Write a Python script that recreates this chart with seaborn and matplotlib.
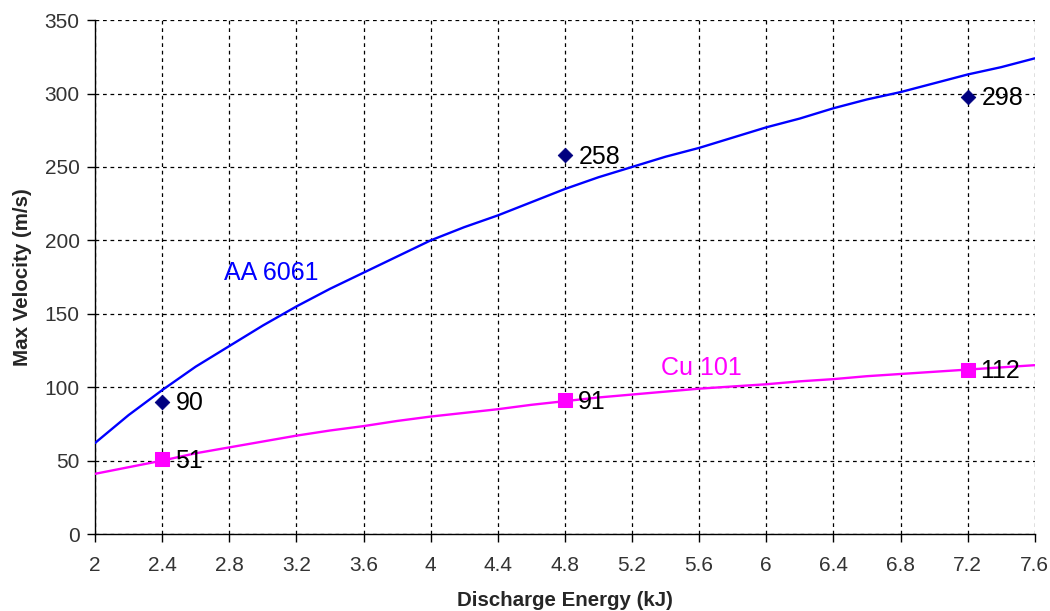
import matplotlib
matplotlib.use('Agg')
import matplotlib.pyplot as plt
import seaborn as sns
import pandas as pd

# measured points
energy_pts = [2.4, 4.8, 7.2]
aa_pts = [90, 258, 298]
cu_pts = [51, 91, 112]

# trend curves
curve_x = [2.0, 2.2, 2.4, 2.6, 2.8, 3.0, 3.2, 3.4, 3.6, 3.8, 4.0, 4.2, 4.4, 4.6, 4.8,
           5.0, 5.2, 5.4, 5.6, 5.8, 6.0, 6.2, 6.4, 6.6, 6.8, 7.0, 7.2, 7.4, 7.6]
aa_curve = [62, 81, 98, 114, 128, 142, 155, 167, 178, 189, 200, 209, 217, 226, 235,
            243, 250, 257, 263, 270, 277, 283, 290, 296, 301, 307, 313, 318, 324]
cu_curve = [41, 45.5, 50, 55, 59, 63, 67, 70.5, 73.5, 77, 80, 82.5, 85, 88, 90.5,
            93, 95, 97, 99, 100.5, 102, 104, 105.5, 107.5, 109, 110.5, 112, 113.5, 115]

x_ticks = [2, 2.4, 2.8, 3.2, 3.6, 4, 4.4, 4.8, 5.2, 5.6, 6, 6.4, 6.8, 7.2, 7.6]
x_tick_labels = ['2', '2.4', '2.8', '3.2', '3.6', '4', '4.4', '4.8', '5.2', '5.6', '6', '6.4', '6.8', '7.2', '7.6']
y_ticks = [0, 50, 100, 150, 200, 250, 300, 350]

sns.set_style('white')
plt.rcParams['font.family'] = ['Liberation Sans', 'DejaVu Sans']

fig = plt.figure(figsize=(10.5, 6.11), dpi=100)
ax = fig.add_axes([0.0905, 0.126, 0.895, 0.841])

curves = pd.DataFrame({'x': curve_x, 'AA 6061': aa_curve, 'Cu 101': cu_curve})
pts = pd.DataFrame({'x': energy_pts, 'AA 6061': aa_pts, 'Cu 101': cu_pts})

sns.lineplot(data=curves, x='x', y='AA 6061', color='#0000FF', linewidth=1.7, ax=ax, zorder=3)
sns.lineplot(data=curves, x='x', y='Cu 101', color='#FF00FF', linewidth=1.7, ax=ax, zorder=3)
sns.scatterplot(data=pts, x='x', y='AA 6061', marker='D', s=55, color='#000080',
                edgecolor='#000080', ax=ax, zorder=4)
sns.scatterplot(data=pts, x='x', y='Cu 101', marker='s', s=90, color='#FF00FF',
                edgecolor='#FF00FF', ax=ax, zorder=4)

for xv, yv in zip(energy_pts, aa_pts):
    ax.annotate(str(yv), (xv, yv), xytext=(10, -1), textcoords='offset points',
                va='center', ha='left', fontsize=18, color='black', zorder=5)
for xv, yv in zip(energy_pts, cu_pts):
    ax.annotate(str(yv), (xv, yv), xytext=(9, -1), textcoords='offset points',
                va='center', ha='left', fontsize=18, color='black', zorder=5)

ax.text(2.77, 178, 'AA 6061', color='#0000FF', fontsize=18, va='center', ha='left')
ax.text(5.37, 113, 'Cu 101', color='#FF00FF', fontsize=18, va='center', ha='left')

ax.set_xlim(2, 7.6)
ax.set_ylim(0, 350)
ax.set_xticks(x_ticks)
ax.set_xticklabels(x_tick_labels)
ax.set_yticks(y_ticks)
ax.grid(True, color='black', linestyle=(0, (3, 3)), linewidth=0.9)
ax.set_axisbelow(True)

for side in ['top', 'right']:
    ax.spines[side].set_visible(False)
for side in ['left', 'bottom']:
    ax.spines[side].set_color('black')
    ax.spines[side].set_linewidth(1.0)

ax.tick_params(axis='both', direction='out', length=6, width=1, color='black',
               labelsize=15, labelcolor='#333333', left=True, bottom=True)
ax.tick_params(axis='x', pad=10)
ax.tick_params(axis='y', pad=5)

ax.set_xlabel('Discharge Energy (kJ)', fontsize=14.8, fontweight='bold', labelpad=11)
ax.set_ylabel('Max Velocity (m/s)', fontsize=14.8, fontweight='bold', labelpad=9)

fig.savefig('out.png', dpi=100)
